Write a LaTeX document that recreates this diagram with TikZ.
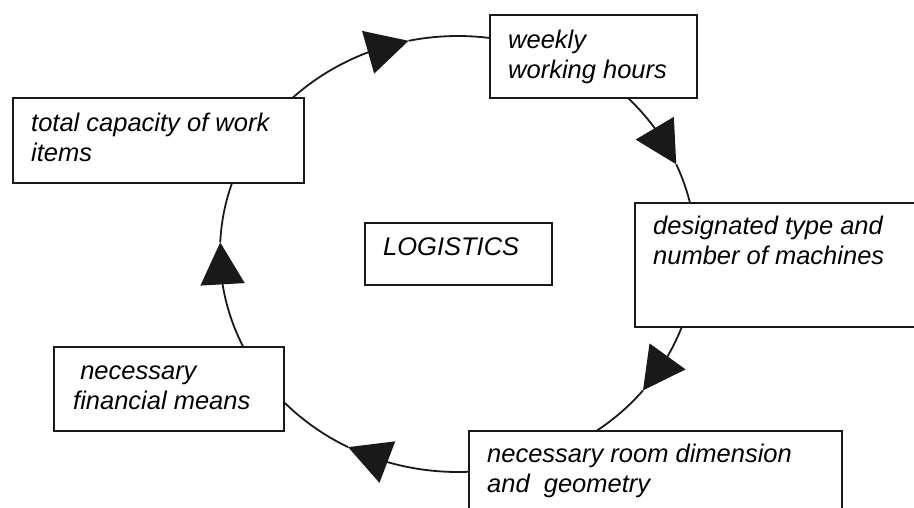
\documentclass[tikz,border=0pt]{standalone}
\usepackage{fontspec}
\setmainfont{Liberation Sans}
\usetikzlibrary{arrows.meta,bending}
\tikzset{
  box/.style={draw=black!90, line width=2pt, fill=white, inner sep=0pt, anchor=north west},
  lbl/.style={inner sep=0pt, anchor=base west, align=left, font=\fontsize{25.5}{30}\selectfont\itshape},
  flow/.style={line width=1.8pt, black!90},
  tri/.style={-{Triangle[length=42pt,width=44pt,flex]}},
}
\begin{document}
\begin{tikzpicture}[x=1pt,y=1pt]
\useasboundingbox (0,0) rectangle (914,-507);
\coordinate (O) at (458,-252);
\coordinate (Otop) at (458,-256);
% points on the ellipse
\foreach \a/\n in {60/s2,23.5/t2,0/s3,-39/t3,-75/s4,-117.5/t4,-145/s5} {
  \path (O) ++(\a:238pt and 220pt) coordinate (\n);
}
\path (O) ++(177.5:238pt and 220pt) coordinate (t5);
\path (Otop) ++(150:238pt and 220pt) coordinate (s1);
\path (Otop) ++(102:238pt and 220pt) coordinate (t1);
% connectors
\draw[flow,tri] (s1) arc[start angle=150,end angle=102,x radius=238pt,y radius=220pt];
\draw[flow] (t1) arc[start angle=102,end angle=60,x radius=238pt,y radius=220pt];
\draw[flow,tri] (s2) arc[start angle=60,end angle=23.5,x radius=238pt,y radius=220pt];
\draw[flow] (t2) arc[start angle=23.5,end angle=0,x radius=238pt,y radius=220pt];
\draw[flow,tri] (s3) arc[start angle=0,end angle=-39,x radius=238pt,y radius=220pt];
\draw[flow] (t3) arc[start angle=-39,end angle=-75,x radius=238pt,y radius=220pt];
\draw[flow,tri] (s4) arc[start angle=-75,end angle=-117.5,x radius=238pt,y radius=220pt];
\draw[flow] (t4) arc[start angle=-117.5,end angle=-145,x radius=238pt,y radius=220pt];
\draw[flow,tri] (s5) arc[start angle=215,end angle=177.5,x radius=238pt,y radius=220pt];
\draw[flow] (t5) arc[start angle=177.5,end angle=150,x radius=238pt,y radius=220pt];
% boxes
\node[box, minimum width=291pt, minimum height=85pt] (cap) at (12,-97) {};
\node[box, minimum width=207pt, minimum height=83pt] (week) at (489,-14) {};
\node[box, minimum width=300pt, minimum height=124pt] (mach) at (634,-201.5) {};
\node[box, minimum width=187pt, minimum height=62pt] (logi) at (364,-222) {};
\node[box, minimum width=230pt, minimum height=84pt] (fin) at (53,-346) {};
\node[box, minimum width=373pt, minimum height=110pt] (room) at (468,-430) {};
% texts (base anchor = last line)
\node[lbl] (capt) at (31,-161) {total capacity of work\\items};
\node[lbl] (weekt) at (508,-78) {weekly\\working hours};
\node[lbl] (macht) at (653,-264) {designated type and\\number of machines};
\node[lbl] (logit) at (383,-255) {LOGISTICS};
\node[lbl] (fint) at (73,-409) {\hspace{0.278em}necessary\\financial means};
\node[lbl] (roomt) at (487,-492) {necessary room dimension\\and\ \ geometry};
\end{tikzpicture}
\end{document}
